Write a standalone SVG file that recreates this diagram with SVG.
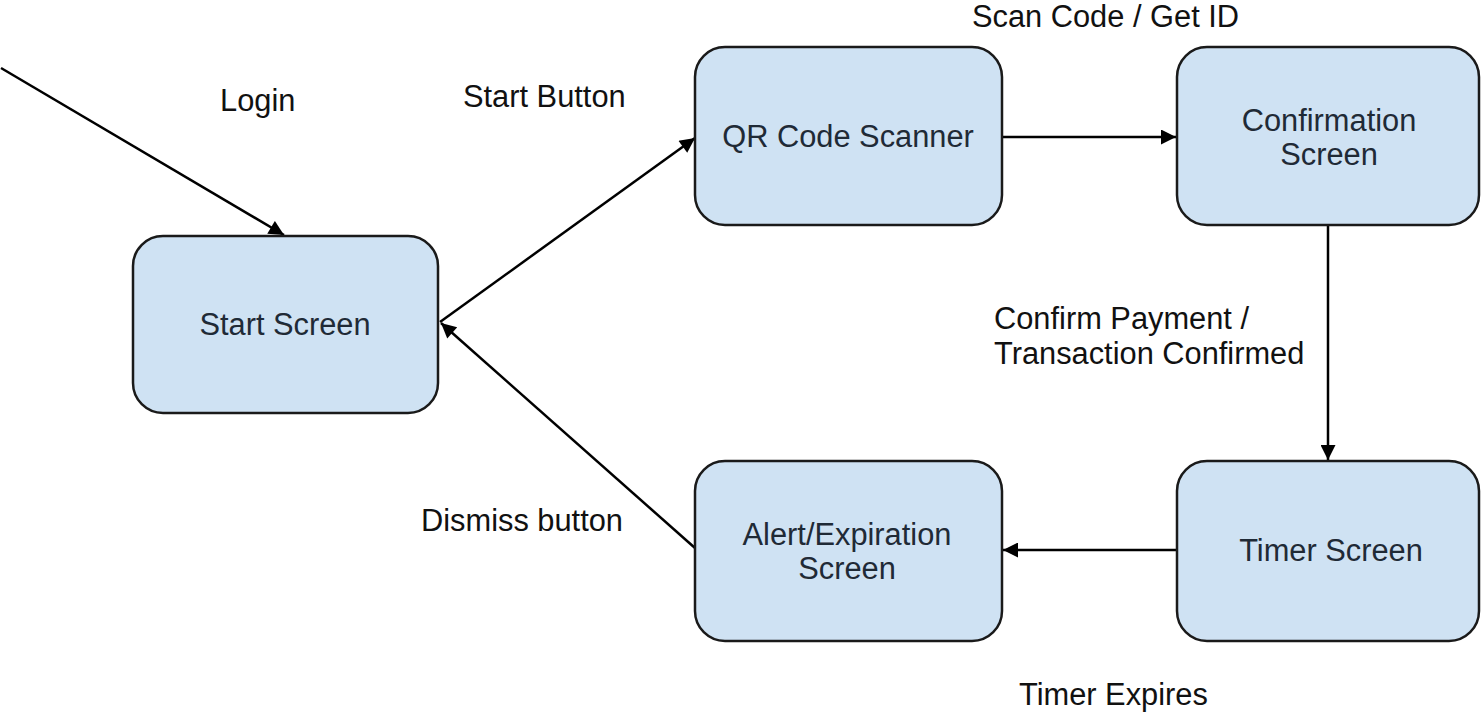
<svg xmlns="http://www.w3.org/2000/svg" width="1481" height="717" viewBox="0 0 1481 717">
  <defs>
    <style>
      .node rect { fill: #cfe2f3; stroke: #1a1a1a; stroke-width: 2.5; }
      .node text { font-family: "Liberation Sans", Arial, sans-serif; font-size: 30.8px; fill: #1f2a36; text-anchor: middle; }
      .label { font-family: "Liberation Sans", Arial, sans-serif; font-size: 30.8px; fill: #111; }
      .edge { stroke: #000; stroke-width: 2.5; fill: none; marker-end: url(#arrow); }
    </style>
    <marker id="arrow" viewBox="0 0 10 10" refX="10" refY="5" markerWidth="7" markerHeight="6" markerUnits="strokeWidth" orient="auto">
      <path d="M0,0 L10,5 L0,10 z" fill="#000"/>
    </marker>
  </defs>
  <rect width="1481" height="717" fill="#fff"/>

  <!-- connectors -->
  <g id="connectors">
    <line class="edge" x1="1" y1="68" x2="284" y2="235"/>
    <line class="edge" x1="440" y1="322" x2="695" y2="138"/>
    <line class="edge" x1="1002" y1="137" x2="1176" y2="137"/>
    <line class="edge" x1="1328" y1="226" x2="1328" y2="460"/>
    <line class="edge" x1="1177" y1="550" x2="1003" y2="550"/>
    <line class="edge" x1="695" y1="548" x2="441" y2="323"/>
  </g>

  <!-- edge labels -->
  <g id="labels">
    <text class="label" x="220" y="111">Login</text>
    <text class="label" x="463" y="107">Start Button</text>
    <text class="label" x="972" y="27">Scan Code / Get ID</text>
    <text class="label" x="994" y="329">Confirm Payment /</text>
    <text class="label" x="994" y="364">Transaction Confirmed</text>
    <text class="label" x="421" y="531">Dismiss button</text>
    <text class="label" x="1019" y="705">Timer Expires</text>
  </g>

  <!-- nodes -->
  <g id="start-screen" class="node">
    <rect x="133" y="236" width="305" height="177" rx="30" ry="30"/>
    <text x="285" y="335">Start Screen</text>
  </g>
  <g id="qr-code-scanner" class="node">
    <rect x="695" y="47" width="307" height="178" rx="30" ry="30"/>
    <text x="848" y="147">QR Code Scanner</text>
  </g>
  <g id="confirmation-screen" class="node">
    <rect x="1177" y="47" width="302" height="178" rx="30" ry="30"/>
    <text x="1329" y="131">Confirmation</text>
    <text x="1329" y="165">Screen</text>
  </g>
  <g id="timer-screen" class="node">
    <rect x="1177" y="461" width="302" height="180" rx="30" ry="30"/>
    <text x="1331" y="561">Timer Screen</text>
  </g>
  <g id="alert-expiration-screen" class="node">
    <rect x="695" y="461" width="307" height="180" rx="30" ry="30"/>
    <text x="847" y="545">Alert/Expiration</text>
    <text x="847" y="579">Screen</text>
  </g>
</svg>
